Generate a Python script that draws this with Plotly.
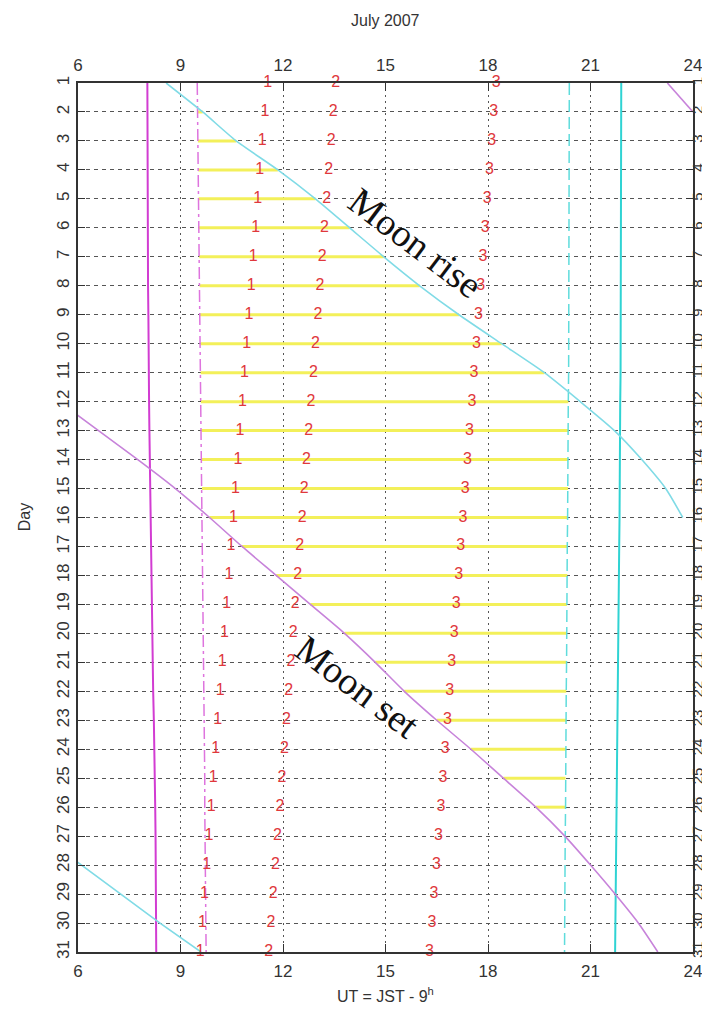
import plotly.graph_objects as go

# ---------------- data (UT hours) ----------------
days = list(range(1, 32))

sunset_ut = [8.03, 8.03, 8.03, 8.04, 8.04, 8.04, 8.05, 8.05, 8.06, 8.06, 8.07,
             8.08, 8.09, 8.10, 8.11, 8.12, 8.13, 8.14, 8.16, 8.17, 8.19, 8.20,
             8.22, 8.24, 8.25, 8.26, 8.27, 8.28, 8.28, 8.29, 8.29]
eve_twilight_ut = [9.49, 9.50, 9.51, 9.52, 9.53, 9.54, 9.55, 9.56, 9.57, 9.58,
                   9.59, 9.60, 9.61, 9.62, 9.63, 9.64, 9.65, 9.66, 9.66, 9.67,
                   9.68, 9.69, 9.69, 9.70, 9.71, 9.71, 9.72, 9.73, 9.73, 9.74, 9.75]
morn_twilight_ut = [20.38, 20.38, 20.38, 20.38, 20.38, 20.38, 20.37, 20.37, 20.37,
                    20.36, 20.36, 20.35, 20.35, 20.34, 20.34, 20.33, 20.32, 20.32,
                    20.31, 20.31, 20.30, 20.29, 20.29, 20.28, 20.27, 20.27, 20.26,
                    20.26, 20.25, 20.25, 20.24]
sunrise_ut = [21.90, 21.90, 21.90, 21.90, 21.89, 21.89, 21.89, 21.89, 21.88, 21.88,
              21.88, 21.87, 21.87, 21.86, 21.85, 21.85, 21.84, 21.83, 21.82, 21.81,
              21.80, 21.79, 21.78, 21.77, 21.77, 21.76, 21.75, 21.74, 21.73, 21.73, 21.72]

moonrise_a_days = list(range(1, 17))
moonrise_a_ut = [8.58, 9.65, 10.63, 11.85, 12.95, 13.95, 14.95, 16.0, 17.15, 18.4,
                 19.65, 20.7, 21.7, 22.5, 23.2, 23.7]
moonrise_b_days = [27, 28, 29, 30, 31]
moonrise_b_ut = [4.95, 6.1, 7.25, 8.4, 9.6]

moonset_a_days = [1, 2]
moonset_a_ut = [23.25, 24.0]
moonset_b_days = list(range(12, 32))
moonset_b_ut = [5.45, 6.6, 7.75, 8.85, 9.85, 10.8, 11.8, 12.8, 13.8, 14.7, 15.55,
                16.5, 17.5, 18.45, 19.4, 20.25, 21.0, 21.72, 22.4, 22.97]

mark1_ut = [11.55, 11.47, 11.39, 11.32, 11.26, 11.20, 11.13, 11.07, 11.00, 10.94,
            10.87, 10.81, 10.74, 10.68, 10.61, 10.55, 10.48, 10.42, 10.35, 10.29,
            10.22, 10.16, 10.09, 10.03, 9.96, 9.90, 9.83, 9.77, 9.70, 9.64, 9.58]
mark2_ut = [13.54, 13.47, 13.41, 13.34, 13.28, 13.21, 13.15, 13.08, 13.02, 12.95,
            12.89, 12.82, 12.75, 12.69, 12.62, 12.56, 12.49, 12.43, 12.36, 12.30,
            12.23, 12.17, 12.10, 12.04, 11.97, 11.91, 11.84, 11.78, 11.71, 11.65, 11.58]
mark3_ut = [18.24, 18.17, 18.11, 18.04, 17.98, 17.92, 17.85, 17.79, 17.72, 17.66,
            17.59, 17.53, 17.46, 17.40, 17.33, 17.27, 17.20, 17.14, 17.07, 17.01,
            16.94, 16.88, 16.81, 16.75, 16.68, 16.62, 16.55, 16.49, 16.42, 16.36, 16.29]

x_ticks = [6, 9, 12, 15, 18, 21, 24]
title_text = "July 2007"
x_title = "UT = JST - 9<sup>h</sup>"
y_title = "Day"

# ---------------- figure ----------------
fig = go.Figure()

# dark-time (no moon) yellow bars
moonrise_map = dict(zip(moonrise_a_days + moonrise_b_days, moonrise_a_ut + moonrise_b_ut))
moonset_map = dict(zip(moonset_b_days, moonset_b_ut))
yx, yy = [], []
for i, d in enumerate(days):
    start = eve_twilight_ut[i]
    end = morn_twilight_ut[i]
    if d in moonset_map and moonset_map[d] > start:
        start = moonset_map[d]
    if d in moonrise_map and moonrise_map[d] < end:
        end = moonrise_map[d]
    if end > start:
        yx += [start, end, None]
        yy += [d, d, None]
fig.add_trace(go.Scatter(x=yx, y=yy, mode="lines",
                         line=dict(color="#f3f05a", width=3), hoverinfo="skip"))

def vline(xs, color, dash, width):
    fig.add_trace(go.Scatter(x=xs, y=days, mode="lines",
                             line=dict(color=color, dash=dash, width=width)))

vline(sunset_ut, "#d23cd2", "solid", 2)
vline(eve_twilight_ut, "#de74de", "12px,4px,3px,4px", 1.5)
vline(morn_twilight_ut, "#5fdcdc", "12px,5px", 1.5)
vline(sunrise_ut, "#2fd3d3", "solid", 2)

fig.add_trace(go.Scatter(x=moonrise_a_ut, y=moonrise_a_days, mode="lines",
                         line=dict(color="#80dbe6", width=1.6, shape="spline", smoothing=0.6)))
fig.add_trace(go.Scatter(x=moonrise_b_ut, y=moonrise_b_days, mode="lines",
                         line=dict(color="#80dbe6", width=1.6)))
fig.add_trace(go.Scatter(x=moonset_a_ut, y=moonset_a_days, mode="lines",
                         line=dict(color="#c783da", width=1.6)))
fig.add_trace(go.Scatter(x=moonset_b_ut, y=moonset_b_days, mode="lines",
                         line=dict(color="#c783da", width=1.6, shape="spline", smoothing=0.6)))

for lab, xs in (("1", mark1_ut), ("2", mark2_ut), ("3", mark3_ut)):
    fig.add_trace(go.Scatter(x=xs, y=days, mode="text", text=[lab] * len(days),
                             textposition="middle center", cliponaxis=False,
                             textfont=dict(family="Liberation Sans", size=16, color="#e0383c")))

# helper trace for top/right axes
fig.add_trace(go.Scatter(x=[6, 24], y=[1, 31], xaxis="x2", yaxis="y2", mode="markers",
                         marker=dict(opacity=0), hoverinfo="skip"))

# The page body adds an 8px offset; positions below are page pixels minus that.
CX, CY = 385.75, 517.5   # plot-area centre in page pixels

fig.add_annotation(text="Moon rise", x=0.5, y=0.5, showarrow=False,
                   xref="paper", yref="paper", xshift=416 - CX, yshift=CY - 243,
                   textangle=37, font=dict(family="Liberation Serif", size=38, color="#111"))
fig.add_annotation(text="Moon set", x=0.5, y=0.5, showarrow=False,
                   xref="paper", yref="paper", xshift=358 - CX, yshift=CY - 687,
                   textangle=37, font=dict(family="Liberation Serif", size=38, color="#111"))

fig.add_annotation(text=title_text, xref="paper", yref="paper", x=0.5, y=0.5,
                   yshift=CY - 20, showarrow=False,
                   font=dict(family="Liberation Sans", size=16, color="#333"))
fig.add_annotation(text=x_title, xref="paper", yref="paper", x=0.5, y=0.5,
                   yshift=CY - 995, showarrow=False,
                   font=dict(family="Liberation Sans", size=16, color="#333"))
fig.add_annotation(text=y_title, xref="paper", yref="paper", x=0.5, y=0.5,
                   xshift=25 - CX, yshift=0, textangle=-90, showarrow=False,
                   font=dict(family="Liberation Sans", size=16, color="#333"))

tickfont = dict(family="Liberation Sans", size=17, color="#333")
common_x = dict(range=[6, 24], tickvals=x_ticks, ticks="inside", ticklen=8,
                tickcolor="#333", tickfont=tickfont, zeroline=False, automargin=False)
common_y = dict(range=[31, 1], tickvals=days, ticks="inside", ticklen=7,
                tickcolor="#333", tickfont=tickfont, zeroline=False, tickangle=-90,
                automargin=False)

yaxis2_cfg = dict(common_y)
yaxis2_cfg.update(side="right", overlaying="y", showgrid=False, ticklabelstandoff=-6,
                  tickfont=dict(family="Liberation Sans", size=15, color="#333"))

fig.update_layout(
    width=710, height=1010,
    margin=dict(l=70, r=25, t=75, b=66, autoexpand=False),
    paper_bgcolor="white", plot_bgcolor="white",
    showlegend=False,
    xaxis=dict(**common_x, side="bottom", showgrid=True, gridcolor="#555",
               griddash="2px,4px", gridwidth=1, showline=True, linecolor="#333",
               linewidth=1.5, mirror=True, ticklabelstandoff=3),
    xaxis2=dict(**common_x, side="top", overlaying="x", showgrid=False,
                ticklabelstandoff=8),
    yaxis=dict(**common_y, side="left", showgrid=True, gridcolor="#555",
               griddash="4px,4px", gridwidth=1, showline=True, linecolor="#333",
               linewidth=1.5, mirror=True, ticklabelstandoff=0),
    yaxis2=yaxis2_cfg,
)

fig.write_html("out.html")
